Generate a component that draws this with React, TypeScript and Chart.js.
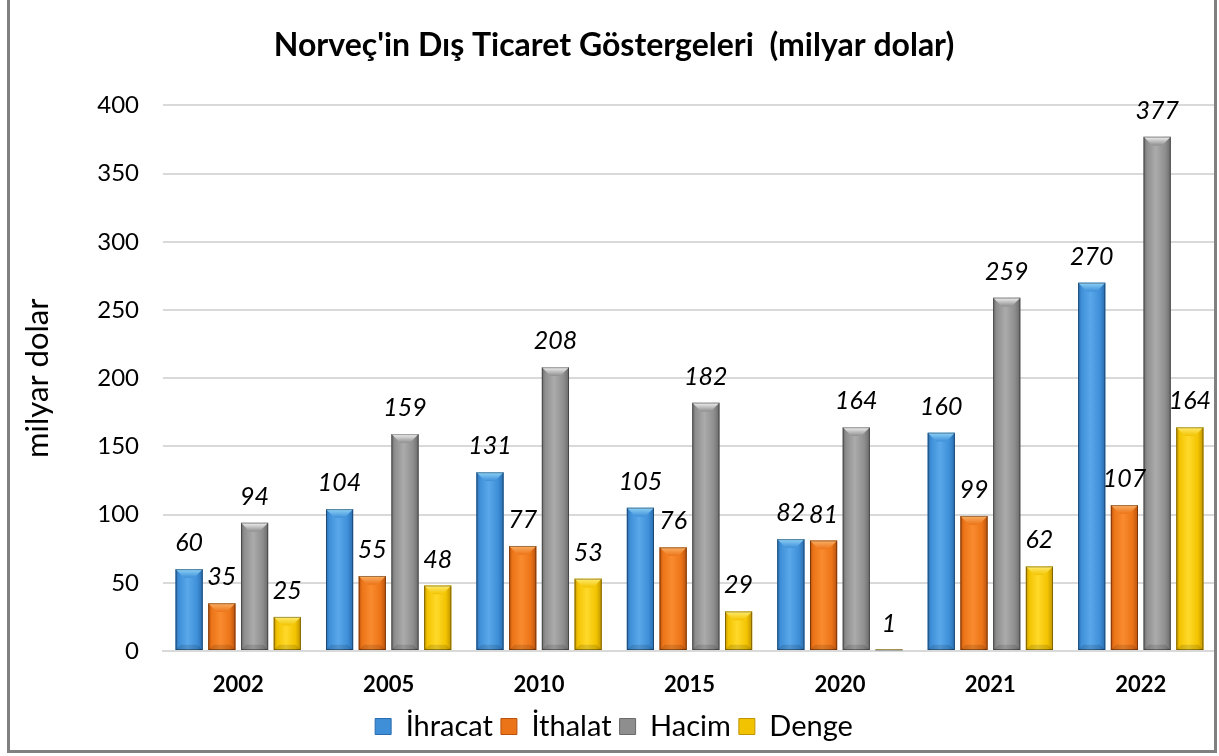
import React, { useEffect, useRef } from "react";
import { Chart, registerables } from "chart.js";
Chart.register(...registerables);

const categories = ["2002", "2005", "2010", "2015", "2020", "2021", "2022"];
const ihracat = [60, 104, 131, 105, 82, 160, 270];
const ithalat = [35, 55, 77, 76, 81, 99, 107];
const hacim = [94, 159, 208, 182, 164, 259, 377];
const denge = [25, 48, 53, 29, 1, 62, 164];
const seriesNames = ["İhracat", "İthalat", "Hacim", "Denge"];
const yMin = 0;
const yMax = 400;
const yStep = 50;
const titleText = "Norveç'in Dış Ticaret Göstergeleri  (milyar dolar)";
const yTitle = "milyar dolar";

const palettes = [
  { dark: "#2A6CAD", mid: "#3E8FD8", light: "#5AA8EA", top: "#8FD3F8" },
  { dark: "#B8520E", mid: "#EC7418", light: "#F98B2E", top: "#FBB066" },
  { dark: "#6A6A6A", mid: "#8E8E8E", light: "#ABABAB", top: "#F2F2F2" },
  { dark: "#C09400", mid: "#F2C300", light: "#FFD92A", top: "#FFEC70" },
];

const FONT = "Lato, 'Open Sans', sans-serif";

const bar3d = {
  id: "bar3d",
  afterDatasetsDraw(chart: any) {
    const ctx = chart.ctx;
    chart.data.datasets.forEach((_ds: any, di: number) => {
      const meta = chart.getDatasetMeta(di);
      const pal = palettes[di];
      meta.data.forEach((bar: any) => {
        const { x, y, base, width } = bar.getProps(["x", "y", "base", "width"], true);
        const x0 = x - width / 2;
        const x1 = x + width / 2;
        const top = Math.min(y, base);
        const bot = Math.max(y, base);
        const h = bot - top;
        if (h <= 0) return;
        ctx.save();
        const g = ctx.createLinearGradient(x0, 0, x1, 0);
        g.addColorStop(0, pal.dark);
        g.addColorStop(0.12, pal.mid);
        g.addColorStop(0.45, pal.light);
        g.addColorStop(0.8, pal.mid);
        g.addColorStop(1, pal.dark);
        ctx.fillStyle = g;
        ctx.fillRect(x0, top, width, h);
        const bv = Math.min(width * 0.32, h / 2, 9);
        const tg = ctx.createLinearGradient(0, top, 0, top + bv);
        tg.addColorStop(0, pal.top);
        tg.addColorStop(1, pal.mid);
        ctx.fillStyle = tg;
        ctx.beginPath();
        ctx.moveTo(x0, top);
        ctx.lineTo(x1, top);
        ctx.lineTo(x1 - bv, top + bv);
        ctx.lineTo(x0 + bv, top + bv);
        ctx.closePath();
        ctx.fill();
        ctx.fillStyle = "rgba(0,0,0,0.12)";
        ctx.beginPath();
        ctx.moveTo(x0, bot);
        ctx.lineTo(x1, bot);
        ctx.lineTo(x1 - bv * 0.6, bot - bv * 0.6);
        ctx.lineTo(x0 + bv * 0.6, bot - bv * 0.6);
        ctx.closePath();
        ctx.fill();
        ctx.strokeStyle = "rgba(0,0,0,0.35)";
        ctx.lineWidth = 1;
        ctx.strokeRect(x0 + 0.5, top + 0.5, width - 1, h - 1);
        ctx.restore();
      });
    });
  },
};

const valueLabels = {
  id: "valueLabels",
  afterDatasetsDraw(chart: any) {
    const ctx = chart.ctx;
    ctx.save();
    ctx.font = `italic 25px ${FONT}`;
    ctx.fillStyle = "#000";
    ctx.textAlign = "center";
    ctx.textBaseline = "alphabetic";
    chart.data.datasets.forEach((ds: any, di: number) => {
      const meta = chart.getDatasetMeta(di);
      meta.data.forEach((bar: any, i: number) => {
        const { x, y } = bar.getProps(["x", "y"], true);
        ctx.fillText(String(ds.data[i]), x, y - 18);
      });
    });
    ctx.restore();
  },
};

export default function App() {
  const ref = useRef<HTMLCanvasElement | null>(null);
  useEffect(() => {
    if (!ref.current) return;
    const series = [ihracat, ithalat, hacim, denge];
    const chart = new Chart(ref.current, {
      type: "bar",
      data: {
        labels: categories,
        datasets: series.map((d, i) => ({
          label: seriesNames[i],
          data: d,
          backgroundColor: palettes[i].mid,
          borderWidth: 0,
          categoryPercentage: 0.87,
          barPercentage: 0.83,
        })),
      },
      options: {
        responsive: false,
        animation: false,
        layout: { padding: { left: 12, right: 3, top: 0, bottom: 5 } },
        plugins: {
          title: {
            display: true,
            text: titleText,
            color: "#000",
            font: { family: FONT, size: 32, weight: "bold" },
            padding: { top: 26, bottom: 41 },
          },
          legend: {
            position: "bottom",
            labels: {
              color: "#000",
              font: { family: FONT, size: 29 },
              boxWidth: 16,
              boxHeight: 16,
              padding: 8,
              generateLabels: () =>
                seriesNames.map((n, i) => ({
                  text: n,
                  fillStyle: palettes[i].mid,
                  strokeStyle: palettes[i].dark,
                  lineWidth: 1,
                  datasetIndex: i,
                  hidden: false,
                })),
            },
          },
          tooltip: { enabled: false },
        },
        scales: {
          x: {
            afterFit: (s: any) => {
              s.height = 53;
            },
            grid: { display: false, drawTicks: false },
            border: { display: true, color: "#d9d9d9", width: 2 },
            ticks: {
              color: "#000",
              font: { family: FONT, size: 22, weight: "bold" },
              padding: 21,
            },
          },
          y: {
            min: yMin,
            max: yMax,
            afterFit: (s: any) => {
              s.width = 151;
            },
            ticks: {
              stepSize: yStep,
              color: "#000",
              font: { family: FONT, size: 24 },
              padding: 24,
            },
            grid: { color: "#d9d9d9", lineWidth: 2, drawTicks: false },
            border: { display: false },
            title: {
              display: true,
              text: yTitle,
              color: "#000",
              font: { family: FONT, size: 31 },
              padding: { top: 7, bottom: 0 },
            },
          },
        },
      },
      plugins: [bar3d, valueLabels],
    });
    return () => chart.destroy();
  }, []);
  return (
    <>
      <canvas
        ref={ref}
        width={1219}
        height={756}
        style={{ position: "fixed", left: 0, top: 0, width: 1219, height: 756, background: "#fff" }}
      />
      <div
        style={{
          position: "fixed",
          left: 7,
          top: -5,
          width: 1210,
          height: 758,
          boxSizing: "border-box",
          border: "3px solid #808080",
          pointerEvents: "none",
        }}
      />
    </>
  );
}
